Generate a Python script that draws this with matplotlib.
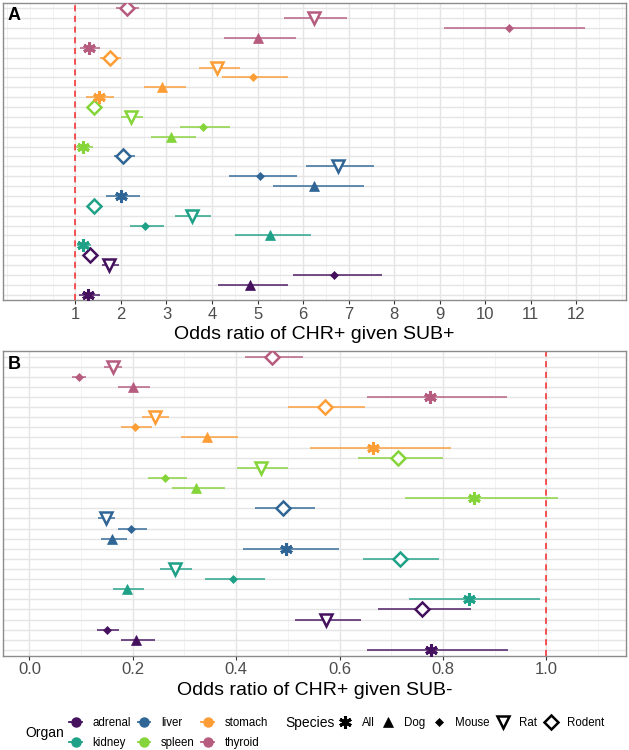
import numpy as np
import matplotlib.pyplot as plt
from matplotlib.lines import Line2D
from matplotlib.ticker import MultipleLocator

organs = ["adrenal", "kidney", "liver", "spleen", "stomach", "thyroid"]
species = ["All", "Dog", "Mouse", "Rat", "Rodent"]

organ_colors = {"adrenal": "#45115E", "kidney": "#1FA187", "liver": "#2F6696",
                "spleen": "#85D43A", "stomach": "#FD9D36", "thyroid": "#B65C7E"}

# rows run bottom to top: adrenal All, Dog, Mouse, Rat, Rodent, kidney All, ...
# panel A: odds ratio of CHR+ given SUB+
or_pos = [1.28, 4.84, 6.67, 1.74, 1.32,
          1.17, 5.28, 2.53, 3.56, 1.41,
          2.01, 6.24, 5.06, 6.77, 2.04,
          1.16, 3.11, 3.81, 2.23, 1.41,
          1.51, 2.91, 4.89, 4.12, 1.76,
          1.30, 5.00, 10.52, 6.24, 2.13]
lo_pos = [1.09, 4.13, 5.78, 1.58, 1.19,
          1.04, 4.51, 2.21, 3.19, 1.30,
          1.68, 5.33, 4.38, 6.07, 1.84,
          1.02, 2.65, 3.29, 2.01, 1.30,
          1.23, 2.50, 4.23, 3.71, 1.55,
          1.11, 4.26, 9.09, 5.58, 1.90]
hi_pos = [1.53, 5.67, 7.73, 1.95, 1.46,
          1.35, 6.18, 2.95, 3.97, 1.51,
          2.42, 7.33, 5.87, 7.56, 2.30,
          1.39, 3.64, 4.40, 2.49, 1.53,
          1.85, 3.42, 5.66, 4.61, 2.00,
          1.53, 5.85, 12.18, 6.96, 2.39]

# panel B: odds ratio of CHR+ given SUB-
or_neg = [0.777, 0.207, 0.150, 0.573, 0.759,
          0.851, 0.189, 0.394, 0.282, 0.716,
          0.497, 0.160, 0.197, 0.148, 0.491,
          0.861, 0.322, 0.263, 0.448, 0.713,
          0.664, 0.343, 0.204, 0.243, 0.571,
          0.775, 0.201, 0.096, 0.161, 0.470]
lo_neg = [0.653, 0.177, 0.131, 0.513, 0.674,
          0.734, 0.162, 0.340, 0.252, 0.646,
          0.413, 0.138, 0.171, 0.133, 0.437,
          0.726, 0.276, 0.229, 0.402, 0.636,
          0.542, 0.294, 0.177, 0.218, 0.501,
          0.653, 0.172, 0.083, 0.144, 0.417]
hi_neg = [0.925, 0.242, 0.173, 0.641, 0.855,
          0.988, 0.221, 0.456, 0.315, 0.793,
          0.598, 0.189, 0.228, 0.165, 0.552,
          1.022, 0.378, 0.305, 0.500, 0.800,
          0.815, 0.404, 0.238, 0.271, 0.649,
          0.924, 0.234, 0.110, 0.179, 0.530]

# marker style per species (ggplot-ish shapes 8, 17, 18, 6, 5)
sp_marker = {"All": dict(marker=(6, 2, 0), ms=9, mew=2.2, filled=True),
             "Dog": dict(marker="^", ms=7, mew=0.5, filled=True),
             "Mouse": dict(marker="D", ms=4, mew=0.5, filled=True),
             "Rat": dict(marker="v", ms=8, mew=1.8, filled=False),
             "Rodent": dict(marker="D", ms=7, mew=1.8, filled=False)}

plt.rcParams['font.family'] = ['Liberation Sans', 'DejaVu Sans']

fig = plt.figure(figsize=(6.29, 7.5), dpi=100)
axA = fig.add_axes([0.004, 0.6, 0.992, 0.396])
axB = fig.add_axes([0.004, 0.126, 0.992, 0.406])


def forest(ax, vals, lo, hi, xlim, major, minor, vline, label, letter):
    k = 0
    for org in organs:
        c = organ_colors[org]
        for sp in species:
            y = k + 1
            ax.plot([lo[k], hi[k]], [y, y], color=c, lw=1.3, alpha=0.8,
                    solid_capstyle='butt', zorder=3)
            st = sp_marker[sp]
            ax.plot(vals[k], y, linestyle='none', marker=st["marker"], ms=st["ms"],
                    mew=st["mew"], mec=c, mfc=c if st["filled"] else 'white',
                    zorder=4)
            k += 1
    ax.axvline(vline, color='#F8262A', ls=(0, (4, 3)), lw=1.1, zorder=2)
    ax.set_xlim(*xlim)
    ax.set_ylim(0.45, 30.55)
    ax.xaxis.set_major_locator(major)
    ax.xaxis.set_minor_locator(minor)
    ax.set_yticks(np.arange(1, 31))
    ax.set_yticklabels([])
    ax.tick_params(axis='y', length=0)
    ax.tick_params(axis='x', which='major', length=3, color='#333333',
                   labelsize=12, labelcolor='#4D4D4D', pad=2)
    ax.tick_params(axis='x', which='minor', length=0)
    ax.grid(True, which='major', color='#E5E5E5', lw=1.0, zorder=0)
    ax.grid(True, which='minor', axis='x', color='#F0F0F0', lw=0.6, zorder=0)
    ax.set_axisbelow(True)
    for s in ax.spines.values():
        s.set_color('#8C8C8C')
        s.set_linewidth(1.0)
    ax.set_xlabel(label, fontsize=14, labelpad=3)
    ax.text(0.008, 0.985, letter, transform=ax.transAxes, fontsize=13,
            fontweight='bold', va='top', ha='left')


forest(axA, or_pos, lo_pos, hi_pos, (-0.6, 13.1), MultipleLocator(1),
       MultipleLocator(0.5), 1, "Odds ratio of CHR+ given SUB+", "A")
axA.set_xticks(np.arange(1, 13))
forest(axB, or_neg, lo_neg, hi_neg, (-0.052, 1.155), MultipleLocator(0.2),
       MultipleLocator(0.1), 1.0, "Odds ratio of CHR+ given SUB-", "B")
axB.xaxis.set_major_formatter(lambda v, p: f"{v:.1f}")

# legends
org_handles = [Line2D([0], [0], color=organ_colors[o], lw=1.3, marker='o', ms=6.5)
               for o in organs]
legO = fig.legend(org_handles, organs, ncol=3, frameon=False,
                  loc='center left', bbox_to_anchor=(0.101, 0.0225),
                  borderpad=0, fontsize=8.3, handlelength=1.1,
                  handletextpad=0.9, columnspacing=0.6, labelspacing=0.7)
sp_handles = []
for sp in species:
    st = sp_marker[sp]
    sp_handles.append(Line2D([0], [0], linestyle='none', marker=st["marker"],
                             ms=st["ms"], mew=st["mew"], mec='black',
                             mfc='black' if st["filled"] else 'white'))
legS = fig.legend(sp_handles, species, ncol=5, frameon=False,
                  loc='center left', bbox_to_anchor=(0.53, 0.036),
                  borderpad=0, fontsize=8.3, handlelength=1.1,
                  handletextpad=0.85, columnspacing=0.62)
fig.text(0.041, 0.0225, "Organ", fontsize=10, va='center', ha='left')
fig.text(0.454, 0.036, "Species", fontsize=10, va='center', ha='left')

fig.savefig("out.png", dpi=100, facecolor='white')
